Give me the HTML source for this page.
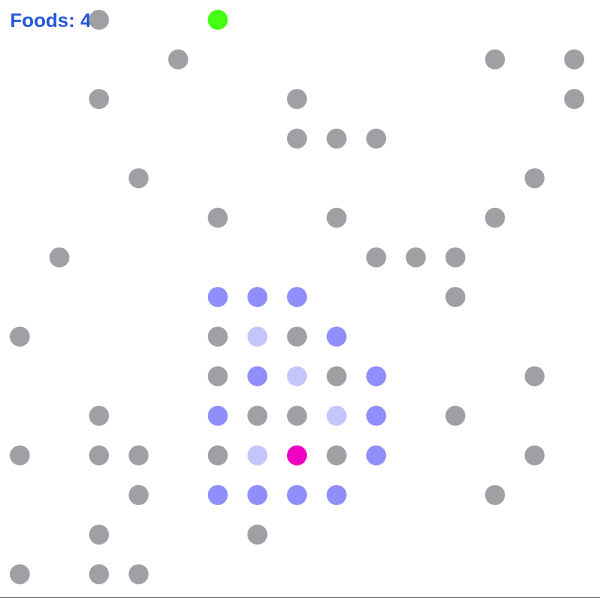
<!DOCTYPE html>
<html><head><meta charset="utf-8"><style>
html,body{margin:0;padding:0;background:#fff;}
#wrap{position:relative;width:600px;height:598px;overflow:hidden;}
svg{position:absolute;left:0;top:0;z-index:2;}
#score{position:absolute;left:10px;top:10px;font:bold 19.5px "Liberation Sans",sans-serif;color:#2255dd;z-index:1;}
</style></head><body>
<div id="wrap">
<div id="score">Foods: 4</div>
<svg id="grid" width="600" height="598">
<line x1="0" y1="597.5" x2="600" y2="597.5" stroke="#777" stroke-width="1"/>
</svg>
</div>
<script>
// cells: [col,row]
const grayCells=[[2,0],[4,1],[12,1],[14,1],[2,2],[7,2],[14,2],[7,3],[8,3],[9,3],[3,4],[13,4],[5,5],[8,5],[12,5],[1,6],[9,6],[10,6],[11,6],[11,7],[0,8],[5,8],[7,8],[5,9],[8,9],[13,9],[2,10],[6,10],[7,10],[11,10],[0,11],[2,11],[3,11],[5,11],[8,11],[13,11],[3,12],[12,12],[2,13],[6,13],[0,14],[2,14],[3,14]];
const blueCells=[[5,7],[6,7],[7,7],[8,8],[6,9],[9,9],[5,10],[9,10],[9,11],[5,12],[6,12],[7,12],[8,12]];
const lightCells=[[6,8],[7,9],[8,10],[6,11]];
const headCells=[[7,11]];
const foodCells=[[5,0]];
const svg=document.getElementById('grid');
const cell=39.6, off=19.8, r=10;
function draw(list,color,name){
  list.forEach(([c,rw])=>{
    const e=document.createElementNS('http://www.w3.org/2000/svg','circle');
    e.setAttribute('cx',off+c*cell);
    e.setAttribute('cy',off+rw*cell);
    e.setAttribute('r',r);
    e.setAttribute('fill',color);
    
    
    svg.appendChild(e);
  });
}
draw(grayCells,'#a09fa3','obstacle-dot');
draw(blueCells,'#8f8ffb','path-dot');
draw(lightCells,'#c5c5fb','visited-dot');
draw(headCells,'#f000c0','player-dot');
draw(foodCells,'#44ff11','food-dot');
</script>
</body></html>
